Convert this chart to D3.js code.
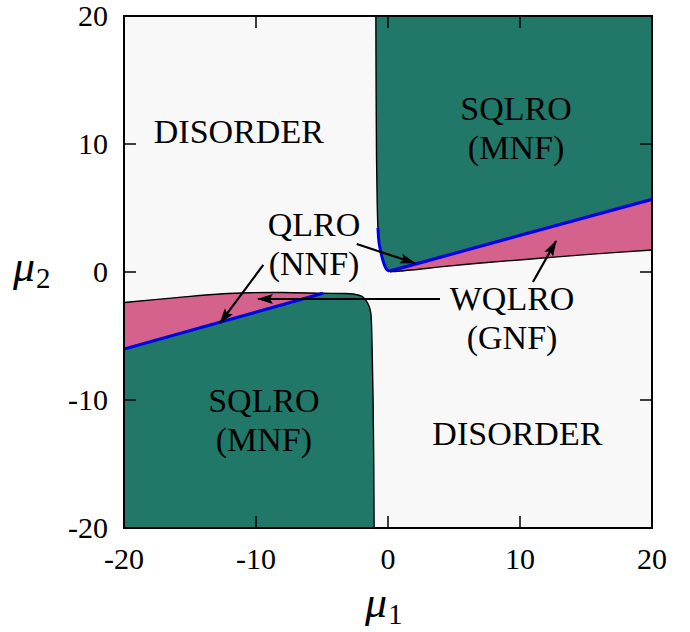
<!DOCTYPE html>
<html>
<head>
<meta charset="utf-8">
<script src="https://cdn.jsdelivr.net/npm/d3@7"></script>
<style>
  html, body { margin: 0; padding: 0; background: #ffffff; }
  svg text { font-family: "Liberation Serif", "Times New Roman", serif; fill: #000; }
</style>
</head>
<body>
<svg id="chart" width="690" height="632"></svg>
<script>
// Phase diagram in the (mu1, mu2) plane

const xTicks = [-20, -10, 0, 10, 20];
const yTicks = [-20, -10, 0, 10, 20];

// Upper-right ordered region: left wall + rounded corner + lower edge
const upperLeftWall = [
  [-0.92, 20], [-0.9, 14], [-0.87, 9], [-0.82, 5.5], [-0.76, 3.44], [-0.68, 2.3],
  [-0.55, 1.6], [-0.4, 0.95], [-0.25, 0.5], [-0.1, 0.2], [0.05, 0.06], [0.3, 0.03]
];
const upperLowerEdge = [
  [0.3, 0.03], [1.2, 0.1], [2.65, 0.25], [3.94, 0.4], [7.5, 0.74], [11.5, 1.07], [15.5, 1.4], [20, 1.72]
];
// Blue boundary: short piece along the wall, then the straight line
const upperBlue = [
  [-0.76, 3.44], [-0.68, 2.3], [-0.55, 1.6], [-0.4, 0.95], [-0.25, 0.5], [-0.1, 0.2], [0.12, 0.07], [20, 5.68]
];

// Lower-left ordered region: top edge + rounded corner + right wall
const lowerTopEdge = [
  [-20, -2.38], [-16, -2.0], [-12.5, -1.7], [-10.5, -1.62], [-8, -1.6], [-4.92, -1.66]
];
const lowerCornerWall = [
  [-4.92, -1.66], [-3.5, -1.68], [-2.65, -1.72], [-1.97, -1.91], [-1.47, -2.58], [-1.31, -3.17],
  [-1.27, -3.6], [-1.2, -6], [-1.13, -10], [-1.08, -15], [-1.05, -20]
];
const lowerBlue = [[-20, -6.02], [-4.92, -1.66]];

// Region labels [text line 1, line 2, mu1, mu2 of first baseline]
const regionLabels = [
  ["DISORDER", null, -11.3, 10.1],
  ["SQLRO", "(MNF)", 9.7, 11.9],
  ["QLRO", "(NNF)", -5.6, 2.8],
  ["WQLRO", "(GNF)", 9.4, -3.0],
  ["SQLRO", "(MNF)", -9.4, -10.9],
  ["DISORDER", null, 9.8, -13.5]
];

// Arrows [from mu1, from mu2, to mu1, to mu2]
const arrows = [
  [-2.37, 2.19, 2.05, 0.68],
  [-9.45, 0.55, -12.73, -4.0],
  [3.94, -2.11, -9.85, -2.11],
  [10.98, -0.78, 12.73, 2.42]
];

(function draw() {
  const colGreen = "#217868";
  const colPink = "#d4628c";
  const colBlue = "#0000e6";
  const colBg = "#f8f8f8";

  const svg = d3.select("#chart");
  const pL = 124, pR = 652, pT = 16, pB = 528;
  const x = d3.scaleLinear().domain([-20, 20]).range([pL, pR]);
  const y = d3.scaleLinear().domain([-20, 20]).range([pB, pT]);

  const line = d3.line().x(d => x(d[0])).y(d => y(d[1]));
  const curve = d3.line().x(d => x(d[0])).y(d => y(d[1])).curve(d3.curveCatmullRom);
  const corners = pts => pts.map(p => "L" + x(p[0]) + "," + y(p[1])).join("") + "Z";

  const defs = svg.append("defs");
  defs.append("clipPath").attr("id", "plotclip")
    .append("rect").attr("x", pL).attr("y", pT).attr("width", pR - pL).attr("height", pB - pT);

  const plot = svg.append("g").attr("clip-path", "url(#plotclip)");
  plot.append("rect").attr("x", pL).attr("y", pT).attr("width", pR - pL).attr("height", pB - pT)
    .attr("fill", colBg);

  const upperOutline = [...upperLeftWall, ...upperLowerEdge.slice(1)];
  const lowerOutline = [...lowerTopEdge, ...lowerCornerWall.slice(1)];

  // Upper-right: full region in green, closed along the frame corners
  plot.append("path").attr("d", curve(upperOutline) + corners([[20, 20], [-0.92, 20]]))
    .attr("fill", colGreen);
  // Pink wedge between blue line and lower edge
  const upperPink = [[0.12, 0.07], [20, 5.68], ...upperLowerEdge.slice().reverse(), [0.05, 0.06]];
  plot.append("path").attr("d", line(upperPink) + "Z").attr("fill", colPink);

  // Lower-left: green region, then pink wedge above the blue line
  plot.append("path").attr("d", curve(lowerOutline) + corners([[-20, -20]])).attr("fill", colGreen);
  const lowerPink = [[-20, -6.02], ...lowerTopEdge, [-20, -6.02]];
  plot.append("path").attr("d", line(lowerPink) + "Z").attr("fill", colPink);

  // Black phase boundaries
  plot.append("path").attr("d", curve(upperOutline))
    .attr("fill", "none").attr("stroke", "#000").attr("stroke-width", 1.4);
  plot.append("path").attr("d", curve(lowerOutline))
    .attr("fill", "none").attr("stroke", "#000").attr("stroke-width", 1.4);

  // Blue boundaries
  plot.append("path").attr("d", curve(upperBlue.slice(0, 7)))
    .attr("fill", "none").attr("stroke", colBlue).attr("stroke-width", 3);
  plot.append("path").attr("d", line(upperBlue.slice(6)))
    .attr("fill", "none").attr("stroke", colBlue).attr("stroke-width", 3.2);
  plot.append("path").attr("d", line(lowerBlue))
    .attr("fill", "none").attr("stroke", colBlue).attr("stroke-width", 3.2);

  // Frame and inward ticks on all four sides
  const tickLen = 12;
  const axes = svg.append("g");
  const fmt = t => (t < 0 ? "-" + Math.abs(t) : String(t));
  xTicks.forEach(t => {
    axes.append("line").attr("x1", x(t)).attr("x2", x(t)).attr("y1", pB).attr("y2", pB - tickLen)
      .attr("stroke", "#000").attr("stroke-width", 1.5);
    axes.append("line").attr("x1", x(t)).attr("x2", x(t)).attr("y1", pT).attr("y2", pT + tickLen)
      .attr("stroke", "#000").attr("stroke-width", 1.5);
    axes.append("text").attr("x", x(t)).attr("y", pB + 41).attr("text-anchor", "middle")
      .attr("font-size", 30).text(fmt(t));
  });
  yTicks.forEach(t => {
    axes.append("line").attr("x1", pL).attr("x2", pL + tickLen).attr("y1", y(t)).attr("y2", y(t))
      .attr("stroke", "#000").attr("stroke-width", 1.5);
    axes.append("line").attr("x1", pR).attr("x2", pR - tickLen).attr("y1", y(t)).attr("y2", y(t))
      .attr("stroke", "#000").attr("stroke-width", 1.5);
    axes.append("text").attr("x", pL - 16).attr("y", y(t) + 10).attr("text-anchor", "end")
      .attr("font-size", 30).text(fmt(t));
  });
  axes.append("rect").attr("x", pL).attr("y", pT).attr("width", pR - pL).attr("height", pB - pT)
    .attr("fill", "none").attr("stroke", "#000").attr("stroke-width", 2);

  // Region labels
  const labels = svg.append("g");
  regionLabels.forEach(([a, b, mx, my]) => {
    labels.append("text").attr("x", x(mx)).attr("y", y(my)).attr("text-anchor", "middle")
      .attr("font-size", 34).text(a);
    if (b) labels.append("text").attr("x", x(mx)).attr("y", y(my) + 39).attr("text-anchor", "middle")
      .attr("font-size", 34).text(b);
  });

  // Arrows with filled heads
  defs.append("marker").attr("id", "head")
    .attr("viewBox", "0 -6 16 12").attr("refX", 15).attr("refY", 0)
    .attr("markerWidth", 16).attr("markerHeight", 12).attr("markerUnits", "userSpaceOnUse")
    .attr("orient", "auto")
    .append("path").attr("d", "M0,-5 L16,0 L0,5 L3,0 Z").attr("fill", "#000");
  arrows.forEach(([x1, y1, x2, y2]) => {
    svg.append("line").attr("x1", x(x1)).attr("y1", y(y1)).attr("x2", x(x2)).attr("y2", y(y2))
      .attr("stroke", "#000").attr("stroke-width", 2.2).attr("marker-end", "url(#head)");
  });

  // Axis titles
  const xt = svg.append("text").attr("x", 365).attr("y", 617).attr("font-size", 44);
  xt.append("tspan").attr("font-style", "italic").text("μ");
  xt.append("tspan").attr("font-size", 29).attr("dx", 1).attr("dy", 7).text("1");
  const yt = svg.append("text").attr("x", 13).attr("y", 281).attr("font-size", 44);
  yt.append("tspan").attr("font-style", "italic").text("μ");
  yt.append("tspan").attr("font-size", 29).attr("dx", 1).attr("dy", 7).text("2");
})();
</script>
</body>
</html>
